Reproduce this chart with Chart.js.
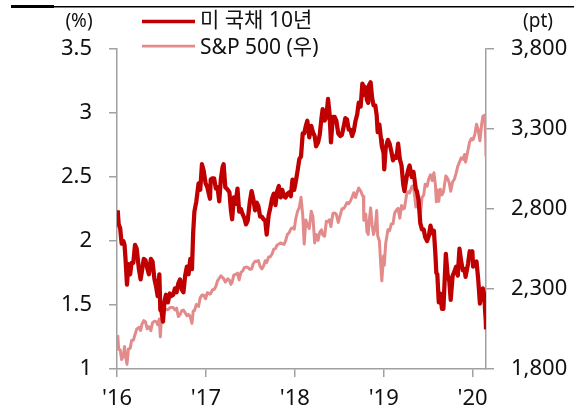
<!DOCTYPE html>
<html lang="ko">
<head>
<meta charset="utf-8">
<title>미 국채 10년 vs S&P 500</title>
<script src="https://cdn.jsdelivr.net/npm/chart.js@4.4.1/dist/chart.umd.min.js"></script>
<style>
  html, body { margin: 0; padding: 0; background: #fff; }
  #chart { display: block; }
</style>
</head>
<body>
<canvas id="chart" width="576" height="420"></canvas>
<script>
// Observation dates (shared by both series)
const dates = [
  // 2016
  '2016-01-04','2016-01-08','2016-01-14','2016-01-20','2016-01-27','2016-02-01','2016-02-05','2016-02-11','2016-02-17','2016-02-24',
  '2016-03-01','2016-03-08','2016-03-15','2016-03-22','2016-03-31','2016-04-07','2016-04-13','2016-04-20','2016-04-27','2016-05-04',
  '2016-05-11','2016-05-19','2016-05-26','2016-06-03','2016-06-10','2016-06-16','2016-06-23','2016-06-27','2016-07-01','2016-07-08',
  '2016-07-14','2016-07-20','2016-07-28','2016-08-05','2016-08-11','2016-08-19','2016-08-26','2016-09-02','2016-09-09','2016-09-16',
  '2016-09-23','2016-09-30','2016-10-07','2016-10-14','2016-10-21','2016-10-28','2016-11-04','2016-11-09','2016-11-14','2016-11-22',
  '2016-12-01','2016-12-08','2016-12-15','2016-12-22','2016-12-30',
  // 2017
  '2017-01-06','2017-01-17','2017-01-20','2017-01-27','2017-02-03','2017-02-10','2017-02-17','2017-02-24','2017-03-03','2017-03-10',
  '2017-03-14','2017-03-21','2017-03-31','2017-04-07','2017-04-13','2017-04-18','2017-04-25','2017-05-02','2017-05-10','2017-05-17',
  '2017-05-24','2017-05-31','2017-06-07','2017-06-14','2017-06-21','2017-06-30','2017-07-07','2017-07-14','2017-07-21','2017-07-28',
  '2017-08-04','2017-08-11','2017-08-18','2017-08-25','2017-09-01','2017-09-07','2017-09-15','2017-09-22','2017-09-29','2017-10-06',
  '2017-10-13','2017-10-20','2017-10-27','2017-11-03','2017-11-10','2017-11-17','2017-11-24','2017-12-01','2017-12-08','2017-12-15',
  '2017-12-22','2017-12-29',
  // 2018
  '2018-01-05','2018-01-12','2018-01-19','2018-01-26','2018-02-02','2018-02-08','2018-02-15','2018-02-21','2018-03-01','2018-03-09',
  '2018-03-16','2018-03-23','2018-03-29','2018-04-06','2018-04-13','2018-04-20','2018-04-25','2018-05-03','2018-05-10','2018-05-17',
  '2018-05-23','2018-05-29','2018-06-06','2018-06-13','2018-06-20','2018-06-28','2018-07-06','2018-07-13','2018-07-20','2018-07-27',
  '2018-08-03','2018-08-10','2018-08-17','2018-08-24','2018-08-31','2018-09-07','2018-09-14','2018-09-20','2018-09-28','2018-10-05',
  '2018-10-09','2018-10-11','2018-10-19','2018-10-24','2018-10-29','2018-11-02','2018-11-08','2018-11-14','2018-11-20','2018-11-27',
  '2018-12-03','2018-12-07','2018-12-14','2018-12-21','2018-12-24','2018-12-31',
  // 2019
  '2019-01-03','2019-01-09','2019-01-18','2019-01-25','2019-02-01','2019-02-08','2019-02-15','2019-02-22','2019-03-01','2019-03-08',
  '2019-03-15','2019-03-22','2019-03-27','2019-04-05','2019-04-12','2019-04-17','2019-04-26','2019-05-03','2019-05-13','2019-05-17',
  '2019-05-24','2019-05-31','2019-06-07','2019-06-14','2019-06-20','2019-06-28','2019-07-05','2019-07-12','2019-07-19','2019-07-26',
  '2019-08-01','2019-08-05','2019-08-09','2019-08-15','2019-08-21','2019-08-28','2019-09-03','2019-09-13','2019-09-20','2019-09-27',
  '2019-10-03','2019-10-11','2019-10-18','2019-10-25','2019-11-01','2019-11-08','2019-11-15','2019-11-22','2019-11-29','2019-12-03',
  '2019-12-13','2019-12-20','2019-12-27','2019-12-31',
  // 2020
  '2020-01-03','2020-01-10','2020-01-17','2020-01-24','2020-01-31','2020-02-07','2020-02-12','2020-02-19','2020-02-21','2020-02-24',
  '2020-02-25'
];

// US 10-year treasury yield (%), left axis
const ust10y = [
  2.24,2.13,2.10,1.98,2.00,1.97,1.86,1.66,1.82,1.74,
  1.83,1.83,1.97,1.94,1.78,1.70,1.77,1.86,1.85,1.79,
  1.74,1.86,1.84,1.70,1.64,1.57,1.74,1.46,1.46,1.37,
  1.53,1.58,1.52,1.59,1.57,1.58,1.63,1.60,1.67,1.70,
  1.62,1.60,1.73,1.80,1.74,1.86,1.78,2.07,2.23,2.31,
  2.45,2.40,2.60,2.55,2.45,
  2.42,2.33,2.48,2.49,2.49,2.41,2.42,2.31,2.49,2.58,
  2.60,2.42,2.40,2.38,2.24,2.17,2.34,2.29,2.41,2.23,
  2.25,2.21,2.18,2.13,2.16,2.31,2.39,2.33,2.24,2.30,
  2.27,2.19,2.19,2.17,2.16,2.05,2.20,2.26,2.33,2.37,
  2.28,2.39,2.43,2.34,2.40,2.35,2.34,2.37,2.38,2.35,
  2.48,2.40,
  2.47,2.55,2.64,2.66,2.84,2.84,2.90,2.94,2.81,2.90,
  2.85,2.82,2.74,2.77,2.83,2.96,3.03,2.94,2.97,3.11,
  3.00,2.77,2.97,2.97,2.94,2.84,2.82,2.83,2.89,2.96,
  2.95,2.87,2.87,2.82,2.86,2.94,2.99,3.08,3.05,3.23,
  3.21,3.14,3.20,3.10,3.08,3.22,3.24,3.12,3.06,3.06,
  2.98,2.85,2.91,2.79,2.74,2.69,
  2.56,2.73,2.79,2.76,2.70,2.63,2.66,2.65,2.76,2.64,
  2.59,2.44,2.39,2.50,2.56,2.59,2.50,2.54,2.40,2.39,
  2.32,2.14,2.09,2.09,2.03,2.00,2.04,2.12,2.06,2.08,
  1.90,1.75,1.74,1.52,1.59,1.47,1.47,1.90,1.74,1.69,
  1.54,1.73,1.76,1.80,1.73,1.94,1.84,1.77,1.78,1.72,
  1.82,1.92,1.88,1.92,
  1.80,1.82,1.84,1.70,1.51,1.58,1.63,1.56,1.46,1.38,
  1.31
];

// S&P 500 index (pt), right axis
const spx = [
  2012,1922,1921,1859,1883,1940,1880,1829,1926,1929,
  1978,1979,2015,2049,2060,2041,2082,2102,2095,2051,
  2064,2040,2090,2099,2096,2077,2113,2001,2103,2130,
  2163,2173,2170,2183,2185,2184,2169,2180,2128,2139,
  2165,2168,2153,2133,2141,2126,2085,2163,2164,2203,
  2191,2246,2262,2261,2239,
  2277,2268,2271,2295,2297,2316,2351,2367,2383,2372,
  2365,2344,2363,2355,2329,2342,2388,2391,2399,2357,
  2404,2412,2433,2437,2436,2423,2425,2459,2473,2472,
  2477,2441,2426,2443,2477,2465,2500,2502,2519,2549,
  2553,2575,2581,2588,2582,2579,2602,2642,2651,2675,
  2683,2674,
  2743,2786,2810,2873,2762,2581,2732,2701,2678,2786,
  2752,2588,2641,2604,2656,2670,2639,2630,2723,2720,
  2733,2690,2772,2775,2767,2716,2760,2801,2802,2819,
  2840,2833,2850,2875,2902,2872,2905,2931,2914,2886,
  2880,2729,2768,2657,2641,2723,2807,2702,2641,2682,
  2790,2633,2600,2417,2351,2507,
  2448,2585,2671,2665,2707,2708,2776,2793,2804,2743,
  2822,2801,2805,2893,2907,2900,2940,2946,2812,2860,
  2826,2752,2873,2887,2954,2942,2990,3014,2977,3026,
  2954,2845,2919,2848,2924,2888,2906,3007,2992,2962,
  2911,2970,2986,3023,3067,3093,3120,3110,3141,3093,
  3169,3221,3240,3231,
  3235,3265,3330,3295,3226,3328,3379,3386,3338,3226,
  3128
];

const yearLabels = ["'16", "'17", "'18", "'19", "'20"];
const seriesNames = ['미 국채 10년', 'S&P 500 (우)'];

const RED = '#C00000';
const PINK = '#E38A8A';
const AXIS = '#A0A0A0';
const TEXT = '#111';
const FONT = "'Noto Sans', 'Noto Sans CJK KR', sans-serif";

// years elapsed since 2016-01-01, used as the x position
const origin = Date.UTC(2016, 0, 1);
function toYears(d) {
  const [y, m, day] = d.split('-').map(Number);
  return (Date.UTC(y, m - 1, day) - origin) / (365.25 * 86400000);
}

const xs = dates.map(toYears);
const xMax = xs[xs.length - 1];

// header rule, unit labels and the legend
const decorations = {
  id: 'decorations',
  afterDraw(chart) {
    const c = chart.ctx;
    c.save();
    c.fillStyle = '#000';
    c.fillRect(11, 5, 43, 3);
    c.fillRect(54, 6, 520, 1.5);

    c.fillStyle = TEXT;
    c.textBaseline = 'middle';
    c.textAlign = 'center';
    c.font = '19px ' + FONT;
    c.fillText('(%)', 79, 22);
    c.fillText('(pt)', 538, 22);

    c.lineCap = 'butt';
    c.strokeStyle = RED;
    c.lineWidth = 3.5;
    c.beginPath(); c.moveTo(142, 21.5); c.lineTo(195, 21.5); c.stroke();
    c.strokeStyle = PINK;
    c.lineWidth = 2.75;
    c.beginPath(); c.moveTo(142, 46); c.lineTo(195, 46); c.stroke();

    c.textAlign = 'left';
    c.font = '21px ' + FONT;
    c.fillText(seriesNames[0], 200, 21);
    c.fillText(seriesNames[1], 200, 48);
    c.restore();
  }
};

const tickFont = { family: FONT, size: 22 };

new Chart(document.getElementById('chart'), {
  type: 'line',
  data: {
    datasets: [
      {
        label: seriesNames[0],
        data: xs.map((x, i) => ({ x, y: ust10y[i] })),
        yAxisID: 'y',
        borderColor: RED,
        borderWidth: 4.25,
        borderJoinStyle: 'round',
        pointRadius: 0,
        tension: 0
      },
      {
        label: seriesNames[1],
        data: xs.map((x, i) => ({ x, y: spx[i] })),
        yAxisID: 'y1',
        borderColor: PINK,
        borderWidth: 3,
        borderJoinStyle: 'round',
        pointRadius: 0,
        tension: 0
      }
    ]
  },
  options: {
    responsive: false,
    animation: false,
    layout: { padding: { top: 49, left: 0, right: 0, bottom: 0 } },
    plugins: {
      legend: { display: false },
      tooltip: { enabled: false }
    },
    scales: {
      x: {
        type: 'linear',
        min: 0,
        max: xMax,
        afterBuildTicks: (s) => { s.ticks = yearLabels.map((_, i) => ({ value: i })); },
        afterFit: (s) => { s.height = 51; },
        ticks: {
          callback: (v, i) => yearLabels[i],
          autoSkip: false,
          maxRotation: 0,
          padding: 9,
          color: TEXT,
          font: tickFont
        },
        grid: { drawOnChartArea: false, tickLength: 8, color: AXIS, lineWidth: 1.5 },
        border: { color: AXIS, width: 1.5 }
      },
      y: {
        position: 'left',
        min: 1,
        max: 3.5,
        afterFit: (s) => { s.width = 117; },
        ticks: {
          stepSize: 0.5,
          padding: 17,
          color: TEXT,
          font: tickFont,
          callback: (v) => String(v)
        },
        grid: { drawOnChartArea: false, tickLength: 8, color: AXIS, lineWidth: 1.5 },
        border: { color: AXIS, width: 1.5 }
      },
      y1: {
        position: 'right',
        min: 1800,
        max: 3800,
        afterFit: (s) => { s.width = 90; },
        ticks: {
          stepSize: 500,
          padding: 17,
          color: TEXT,
          font: tickFont,
          callback: (v) => v.toLocaleString('en-US')
        },
        grid: { drawOnChartArea: false, tickLength: 8, color: AXIS, lineWidth: 1.5 },
        border: { color: AXIS, width: 1.5 }
      }
    }
  },
  plugins: [decorations]
});
</script>
</body>
</html>
